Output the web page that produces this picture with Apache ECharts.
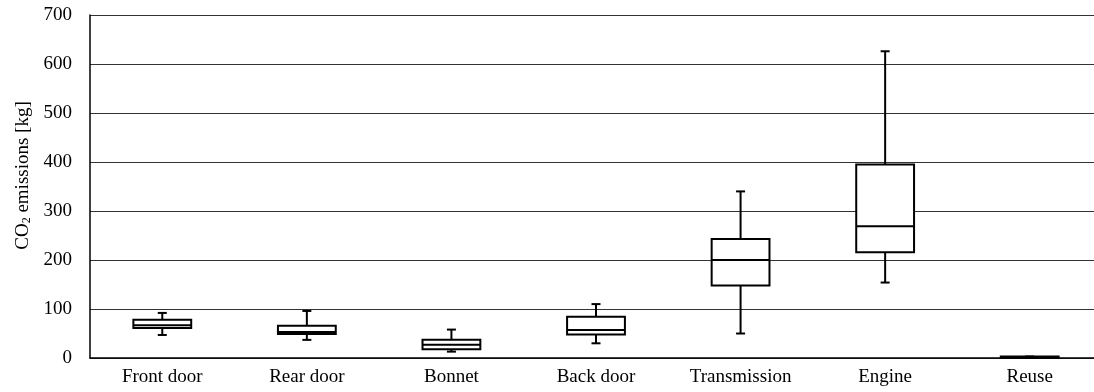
<!DOCTYPE html>
<html>
<head>
<meta charset="utf-8">
<script src="https://cdn.jsdelivr.net/npm/echarts@6/dist/echarts.min.js"></script>
<style>
  html, body { margin: 0; padding: 0; background: #fff; overflow: hidden; }
  #chart { width: 1102px; height: 392px; }
</style>
</head>
<body>
<div id="chart"></div>
<script>
// Components and their CO2 emission distributions
const categories = ['Front door', 'Rear door', 'Bonnet', 'Back door', 'Transmission', 'Engine', 'Reuse'];
const whiskerLow  = [47, 37, 13, 30, 50, 154, 0];
const quartile1   = [61, 49, 18, 48, 148, 216, 0];
const medians     = [67, 53, 27, 57, 200, 269, 1];
const quartile3   = [78, 66, 37, 84, 243, 395, 3];
const whiskerHigh = [92, 96, 58, 110, 340, 626, 3];
const yTicks = [0, 100, 200, 300, 400, 500, 600, 700];

const FONT = 'Liberation Serif';
const data = categories.map((c, i) => [i, whiskerLow[i], quartile1[i], medians[i], quartile3[i], whiskerHigh[i]]);

function renderBox(params, api) {
  const i = api.value(0);
  const pMin = api.coord([i, api.value(1)]);
  const pQ1 = api.coord([i, api.value(2)]);
  const pMed = api.coord([i, api.value(3)]);
  const pQ3 = api.coord([i, api.value(4)]);
  const pMax = api.coord([i, api.value(5)]);
  const bandW = api.size([1, 0])[0];
  const boxW = bandW * 0.4;
  const capW = 9;
  const x = pMed[0];
  const stroke = { stroke: '#000', lineWidth: 2, fill: null };
  return {
    type: 'group',
    children: [
      { type: 'line', shape: { x1: x, y1: pMax[1], x2: x, y2: pQ3[1] }, style: stroke },
      { type: 'line', shape: { x1: x, y1: pQ1[1], x2: x, y2: pMin[1] }, style: stroke },
      { type: 'line', shape: { x1: x - capW / 2, y1: pMax[1], x2: x + capW / 2, y2: pMax[1] }, style: stroke },
      { type: 'line', shape: { x1: x - capW / 2, y1: pMin[1], x2: x + capW / 2, y2: pMin[1] }, style: stroke },
      { type: 'rect', shape: { x: x - boxW / 2, y: pQ3[1], width: boxW, height: pQ1[1] - pQ3[1] },
        style: { fill: '#fff', stroke: '#000', lineWidth: 2 } },
      { type: 'line', shape: { x1: x - boxW / 2, y1: pMed[1], x2: x + boxW / 2, y2: pMed[1] }, style: stroke }
    ]
  };
}

const chart = echarts.init(document.getElementById('chart'), null, { renderer: 'canvas' });
chart.setOption({
  animation: false,
  backgroundColor: '#fff',
  grid: { left: 90, right: 0, top: 15, bottom: 34, containLabel: false },
  xAxis: {
    type: 'category',
    data: categories,
    boundaryGap: true,
    axisLine: { lineStyle: { color: '#000', width: 1.5 } },
    axisTick: { show: false },
    axisLabel: { color: '#000', fontFamily: FONT, fontSize: 19, margin: 10, interval: 0 },
    splitLine: { show: false }
  },
  yAxis: {
    type: 'value',
    min: yTicks[0],
    max: yTicks[yTicks.length - 1],
    interval: yTicks[1] - yTicks[0],
    name: '{a|CO}{s|2}{a| emissions [kg]}',
    nameLocation: 'middle',
    nameRotate: 90,
    nameGap: 45,
    nameTextStyle: {
      padding: [0, 0, 0, 22],
      rich: {
        a: { fontFamily: FONT, fontSize: 19, color: '#000' },
        s: { fontFamily: FONT, fontSize: 12, color: '#000', verticalAlign: 'bottom', padding: [8, 0, 0, 0] }
      }
    },
    axisLine: { show: true, lineStyle: { color: '#000', width: 1.5 } },
    axisTick: { show: false },
    axisLabel: { color: '#000', fontFamily: FONT, fontSize: 19, margin: 18 },
    splitLine: { show: true, lineStyle: { color: '#333', width: 1 } }
  },
  series: [{
    type: 'custom',
    renderItem: renderBox,
    encode: { x: 0, y: [1, 2, 3, 4, 5] },
    data: data,
    clip: false
  }]
});
</script>
</body>
</html>
